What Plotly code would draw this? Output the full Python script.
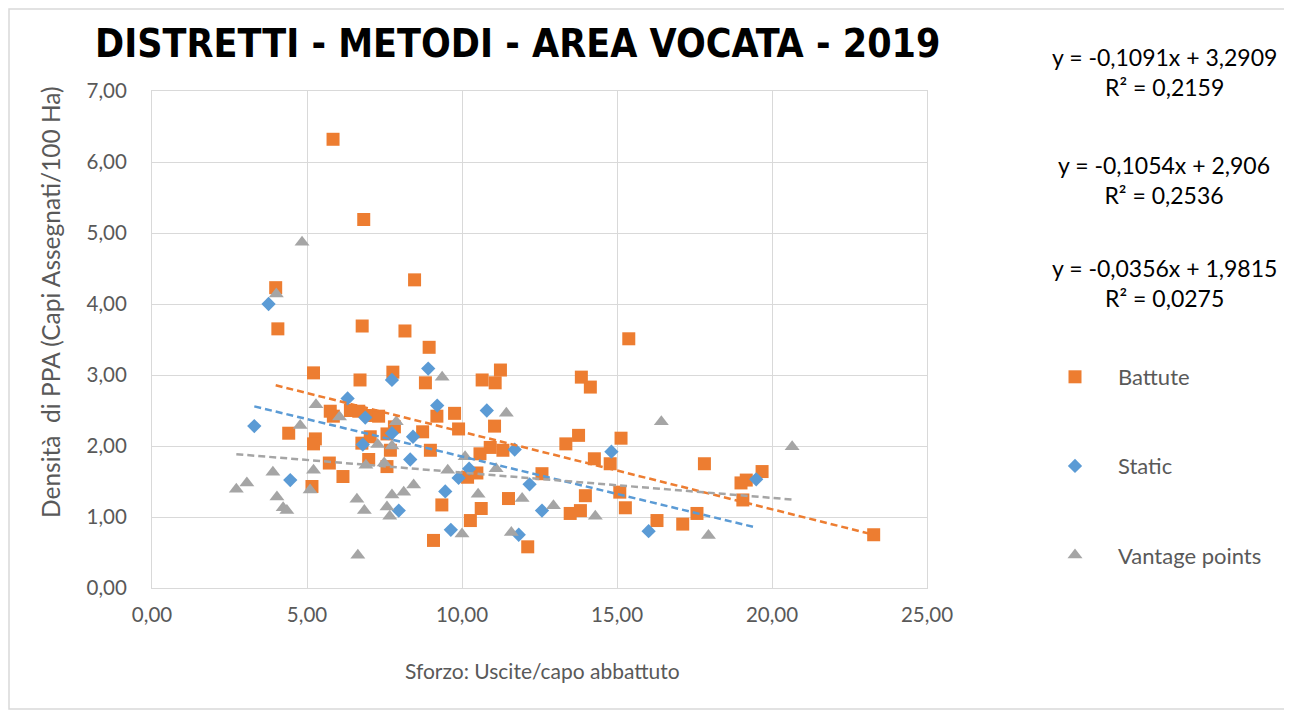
import plotly.graph_objects as go

# ---- data ----
battute_x = [5.84, 6.83, 3.99, 8.47, 4.06, 6.78, 8.16, 8.94, 10.65, 11.07, 11.24, 13.85, 14.14, 15.38,
             5.21, 6.71, 7.77, 8.82, 5.75, 5.85, 6.40, 6.67, 7.04, 7.31, 9.19, 9.76, 4.41, 9.89,
             7.82, 8.73, 7.58, 5.27, 5.21, 6.77, 7.04, 8.98, 11.05, 13.76, 13.35, 15.13, 10.91,
             11.32, 7.69, 6.99, 5.72, 7.58, 6.16, 5.16, 9.35, 10.18, 10.48, 10.58, 10.27, 9.08,
             14.27, 14.78, 12.58, 11.50, 13.98, 13.49, 13.82, 15.09, 15.27, 10.62, 12.12, 17.82,
             19.68, 19.17, 19.00, 19.06, 17.58, 16.29, 17.12, 23.28]
battute_y = [6.32, 5.19, 4.23, 4.34, 3.65, 3.69, 3.62, 3.39, 2.93, 2.89, 3.07, 2.97, 2.83, 3.51,
             3.03, 2.93, 3.04, 2.89, 2.49, 2.42, 2.50, 2.49, 2.43, 2.42, 2.42, 2.46, 2.18, 2.24,
             2.27, 2.20, 2.17, 2.10, 2.03, 2.04, 2.13, 1.94, 2.28, 2.15, 2.03, 2.11, 1.98,
             1.94, 1.94, 1.81, 1.76, 1.71, 1.57, 1.43, 1.17, 1.56, 1.62, 1.89, 0.95, 0.67,
             1.82, 1.75, 1.61, 1.26, 1.30, 1.05, 1.09, 1.35, 1.13, 1.12, 0.58, 1.75,
             1.64, 1.52, 1.48, 1.24, 1.05, 0.95, 0.90, 0.75]

static_x = [3.76, 8.91, 7.74, 6.31, 9.20, 6.88, 3.30, 7.74, 8.42, 6.80, 8.33, 4.46, 7.96, 9.46,
            9.89, 10.23, 9.64, 10.80, 11.70, 14.82, 12.18, 12.58, 16.02, 11.83, 19.49]
static_y = [4.00, 3.09, 2.93, 2.67, 2.57, 2.40, 2.28, 2.18, 2.13, 2.02, 1.81, 1.52, 1.09, 1.36,
            1.55, 1.68, 0.82, 2.50, 1.95, 1.92, 1.46, 1.09, 0.80, 0.75, 1.53]

vantage_x = [4.84, 4.01, 9.36, 5.29, 6.05, 7.88, 4.78, 7.28, 7.74, 11.43, 6.90, 7.49, 3.90, 5.21,
             2.72, 3.06, 5.10, 4.03, 4.23, 4.35, 6.61, 6.85, 7.74, 8.12, 8.44, 7.58, 7.67, 9.54,
             10.10, 11.10, 10.52, 11.94, 12.95, 14.30, 10.00, 11.59, 6.64, 16.43, 20.65, 17.95]
vantage_y = [4.87, 4.14, 2.97, 2.58, 2.41, 2.34, 2.29, 2.02, 2.00, 2.46, 1.73, 1.76, 1.63, 1.66,
             1.39, 1.48, 1.38, 1.28, 1.13, 1.09, 1.25, 1.09, 1.31, 1.35, 1.45, 1.14, 1.01, 1.66,
             1.85, 1.68, 1.32, 1.26, 1.16, 1.01, 0.76, 0.78, 0.46, 2.34, 1.99, 0.74]

# trendline coefficients as printed on the chart (slope, intercept)
trend_battute = (-0.1091, 3.2909)
trend_static = (-0.1054, 2.906)
trend_vantage = (-0.0356, 1.9815)

eq_texts = ["y = -0,1091x + 3,2909<br>R² = 0,2159",
            "y = -0,1054x + 2,906<br>R² = 0,2536",
            "y = -0,0356x + 1,9815<br>R² = 0,0275"]

x_ticks = [0, 5, 10, 15, 20, 25]
x_tick_labels = ["0,00", "5,00", "10,00", "15,00", "20,00", "25,00"]
y_ticks = [0, 1, 2, 3, 4, 5, 6, 7]
y_tick_labels = ["0,00", "1,00", "2,00", "3,00", "4,00", "5,00", "6,00", "7,00"]

ORANGE = "#ED7D31"
BLUE = "#5B9BD5"
GRAY = "#A5A5A5"
TXT = "#595959"
FONT = "Lato, 'Open Sans', sans-serif"

OFF = 8  # page body margin
W, H = 1292, 714
PLOT_L, PLOT_R, PLOT_T, PLOT_B = 152, 927, 91, 588  # screen pixels of plot area
L = PLOT_L - OFF
T = PLOT_T - OFF
PW, PH = PLOT_R - PLOT_L, PLOT_B - PLOT_T
R = W - L - PW
B = H - T - PH


def px(xp):
    return (xp - PLOT_L) / PW


def py(yp):
    return 1 - (yp - PLOT_T) / PH


fig = go.Figure()

fig.add_trace(go.Scatter(x=battute_x, y=battute_y, mode="markers", name="Battute",
                         legendgroup="b", marker=dict(symbol="square", size=13, color=ORANGE)))
fig.add_trace(go.Scatter(x=static_x, y=static_y, mode="markers", name="Static",
                         legendgroup="s", marker=dict(symbol="diamond", size=11, color=BLUE)))
fig.add_trace(go.Scatter(x=vantage_x, y=vantage_y, mode="markers", name="Vantage points",
                         legendgroup="v", marker=dict(symbol="triangle-up", size=13, color=GRAY)))

for xs, coef, col in [(battute_x, trend_battute, ORANGE), (static_x, trend_static, BLUE),
                      (vantage_x, trend_vantage, GRAY)]:
    x0, x1 = min(xs), max(xs)
    fig.add_trace(go.Scatter(x=[x0, x1], y=[coef[0] * x0 + coef[1], coef[0] * x1 + coef[1]],
                             mode="lines", showlegend=False, hoverinfo="skip",
                             line=dict(color=col, width=2.5, dash="7px,4px")))

annotations = [
    dict(text="<b>DISTRETTI - METODI - AREA VOCATA - 2019</b>", x=px(517), y=py(44),
         xref="paper", yref="paper", showarrow=False, xanchor="center", yanchor="middle",
         font=dict(family="'Liberation Sans Narrow', 'DejaVu Sans Condensed', sans-serif",
                   size=39, color="#000000")),
    dict(text="Sforzo: Uscite/capo abbattuto", x=px(542), y=py(670), xref="paper", yref="paper",
         showarrow=False, xanchor="center", yanchor="middle",
         font=dict(family=FONT, size=21, color=TXT)),
    dict(text="Densità  di PPA (Capi Assegnati/100 Ha)", x=px(50), y=py(302), xref="paper",
         yref="paper", showarrow=False, xanchor="center", yanchor="middle", textangle=-90,
         font=dict(family=FONT, size=24.5, color=TXT)),
]
for txt, yc in zip(eq_texts, [72, 180, 283]):
    annotations.append(dict(text=txt, x=px(1164), y=py(yc), xref="paper", yref="paper",
                            showarrow=False, xanchor="center", yanchor="middle", align="center",
                            font=dict(family=FONT, size=23, color="#000000")))

fig.update_layout(
    width=W, height=H,
    margin=dict(l=L, r=R, t=T, b=B, autoexpand=False),
    paper_bgcolor="white", plot_bgcolor="white",
    annotations=annotations,
    showlegend=True,
    legend=dict(x=px(1032), y=py(356), xanchor="left", yanchor="top",
                font=dict(family=FONT, size=22, color=TXT), tracegroupgap=57.5,
                itemwidth=76, bgcolor="rgba(0,0,0,0)"),
    shapes=[dict(type="rect", xref="paper", yref="paper", x0=px(9), x1=px(1288), y0=py(709),
                 y1=py(9), line=dict(color="#D9D9D9", width=1.5), layer="below")],
)

fig.update_xaxes(range=[0, 25], tickvals=x_ticks, ticktext=x_tick_labels, showgrid=True,
                 gridcolor="#D9D9D9", gridwidth=1, zeroline=False, showline=True,
                 linecolor="#D9D9D9", mirror=True, ticks="", ticklabelstandoff=8,
                 tickfont=dict(family=FONT, size=20.5, color=TXT))
fig.update_yaxes(range=[0, 7], tickvals=y_ticks, ticktext=y_tick_labels, showgrid=True,
                 gridcolor="#D9D9D9", gridwidth=1, zeroline=False, showline=True,
                 linecolor="#D9D9D9", mirror=True, ticks="", ticklabelstandoff=20,
                 tickfont=dict(family=FONT, size=20.5, color=TXT))

fig.write_html("out.html")
